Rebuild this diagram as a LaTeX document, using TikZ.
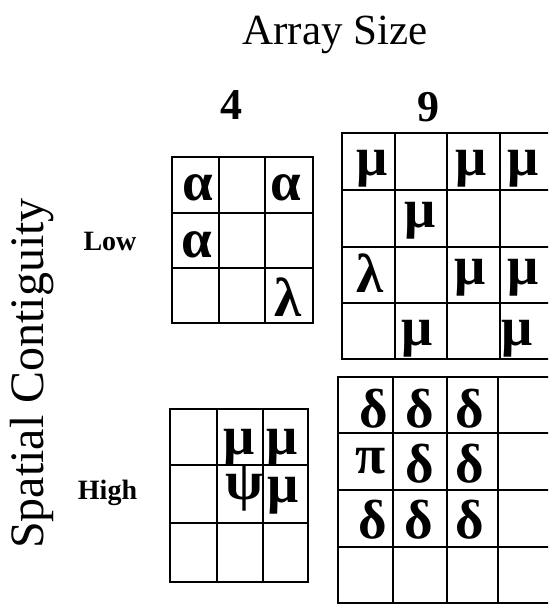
\documentclass[tikz,border=0pt]{standalone}
\usepackage{fontspec}
\setmainfont{Liberation Serif}
\begin{document}
\begin{tikzpicture}[x=1pt,y=-1pt,
  gridline/.style={line width=2.8pt, line cap=rect},
  greek/.style={inner sep=0pt, font=\fontsize{55}{55}\selectfont\bfseries},
  rowlabel/.style={anchor=base, inner sep=0pt, font=\fontsize{28}{28}\selectfont\bfseries},
  collabel/.style={anchor=base, inner sep=0pt, font=\fontsize{44}{44}\selectfont\bfseries},
  title/.style={anchor=base, inner sep=0pt, font=\fontsize{43}{43}\selectfont}]
\useasboundingbox (0,0) rectangle (548,604);
\clip (0,0) rectangle (548,604);

% titles
\node[title] (arraysize) at (335,45) {Array Size};
\node[title, rotate=90, font=\fontsize{48}{48}\selectfont] (spatial) at (43,373.5) {Spatial Contiguity};
\node[collabel] (four) at (231,120) {4};
\node[collabel] (nine) at (428.5,122) {9};
\node[rowlabel] (low) at (110,250) {Low};
\node[rowlabel] (high) at (107.5,499) {High};

% Low, 4
\foreach \x in {172,219,265,313} \draw[gridline] (\x,157) -- (\x,323);
\foreach \y in {157,213,268,323} \draw[gridline] (172,\y) -- (313,\y);
% Low, 9
\foreach \x in {342,395,447,500,553} \draw[gridline] (\x,133) -- (\x,359);
\foreach \y in {133,190,247,303,359} \draw[gridline] (342,\y) -- (553,\y);
% High, 4
\foreach \x in {170,217,263,308} \draw[gridline] (\x,409) -- (\x,582);
\foreach \y in {409,465,523,582} \draw[gridline] (170,\y) -- (308,\y);
% High, 9
\foreach \x in {338,393,447,498,551} \draw[gridline] (\x,377) -- (\x,603);
\foreach \y in {377,433,490,547,603} \draw[gridline] (338,\y) -- (551,\y);

% Low 4 symbols
\node[greek] (la1) at (198,187.5) {α};
\node[greek] (la2) at (286,187.5) {α};
\node[greek] (la3) at (197,245) {α};
\node[greek] (ll1) at (288,297.5) {λ};
% Low 9 symbols
\node[greek] (lm1) at (372.5,168.5) {μ};
\node[greek] (lm2) at (471.5,169) {μ};
\node[greek] (lm3) at (523.5,169) {μ};
\node[greek] (lm4) at (420.5,220.5) {μ};
\node[greek] (ll2) at (370.5,273.5) {λ};
\node[greek] (lm5) at (470.5,277.5) {μ};
\node[greek] (lm6) at (523.5,277.5) {μ};
\node[greek] (lm7) at (417.5,338.5) {μ};
\node[greek] (lm8) at (517.5,338.5) {μ};
% High 4 symbols
\node[greek] (hm1) at (239.5,447.5) {μ};
\node[greek] (hm2) at (282.5,447.5) {μ};
\node[greek] (hp1) at (244,489) {ψ};
\node[greek] (hm3) at (283.5,495.5) {μ};
% High 9 symbols
\node[greek] (hd1) at (373.5,409) {δ};
\node[greek] (hd2) at (420,409) {δ};
\node[greek] (hd3) at (470,409) {δ};
\node[greek] (hpi) at (370.5,461) {π};
\node[greek] (hd4) at (420,464) {δ};
\node[greek] (hd5) at (470,464) {δ};
\node[greek] (hd6) at (372.5,520) {δ};
\node[greek] (hd7) at (418.5,520) {δ};
\node[greek] (hd8) at (470,520) {δ};
\end{tikzpicture}
\end{document}
